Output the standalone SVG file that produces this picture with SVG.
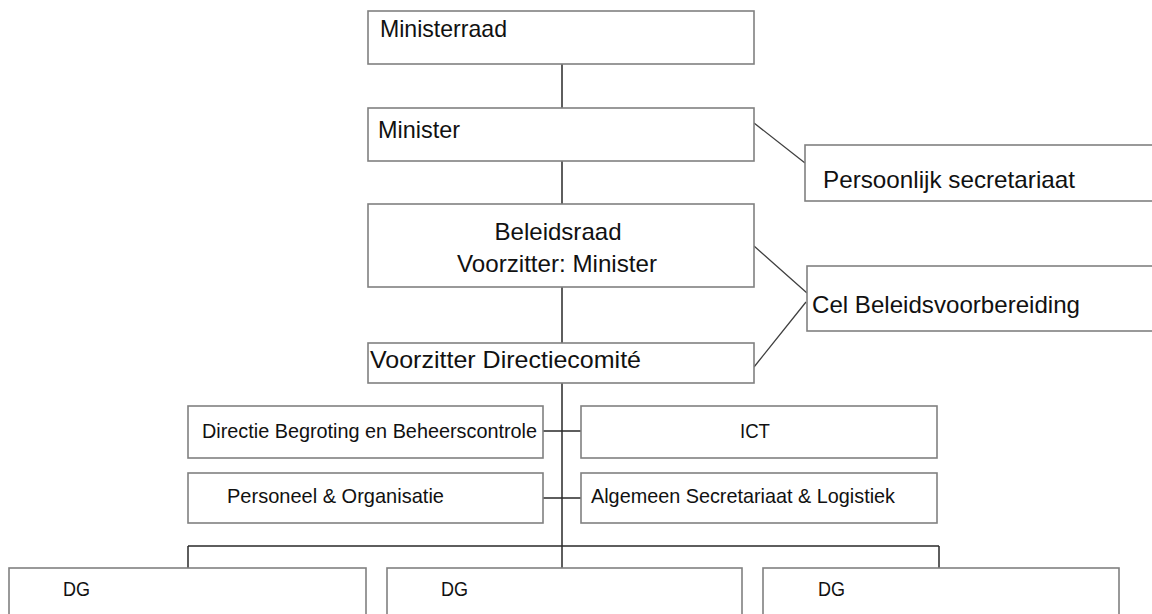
<svg xmlns="http://www.w3.org/2000/svg" width="1152" height="614" viewBox="0 0 1152 614">
<style>
.box{fill:#fff;stroke:#808080;stroke-width:1.6}
.ln{stroke:#2a2a2a;stroke-width:1.5;fill:none}
.dg{stroke:#404040;stroke-width:1.3;fill:none}
text{font-family:"Liberation Sans",Arial,sans-serif;fill:#111}
.big{font-size:24px}
.sm{font-size:21px}
</style>
<rect width="1152" height="614" fill="#fff"/>
<g id="connectors">
<path class="ln" d="M562 64V108M562 161V204M562 287V343M562 383V568M543 431H581M543 498H581M188 546H939M188 546V568M939 546V568"/>
<path class="dg" d="M754 123L805 163M754 246L807 293M754 367L806 302"/>
</g>
<g id="ministerraad"><rect class="box" x="368" y="11" width="386" height="53"/><text class="big" x="380" y="37" textLength="127" lengthAdjust="spacingAndGlyphs">Ministerraad</text></g>
<g id="minister"><rect class="box" x="368" y="108" width="386" height="53"/><text class="big" x="378" y="138" textLength="82" lengthAdjust="spacingAndGlyphs">Minister</text></g>
<g id="persoonlijk"><rect class="box" x="805" y="145" width="360" height="56"/><text class="big" x="823" y="188" textLength="252" lengthAdjust="spacingAndGlyphs">Persoonlijk secretariaat</text></g>
<g id="beleidsraad"><rect class="box" x="368" y="204" width="386" height="83"/><text class="big" x="558" y="240" text-anchor="middle" textLength="127" lengthAdjust="spacingAndGlyphs">Beleidsraad</text><text class="big" x="557" y="272" text-anchor="middle" textLength="200" lengthAdjust="spacingAndGlyphs">Voorzitter: Minister</text></g>
<g id="cel"><rect class="box" x="807" y="266" width="360" height="65"/><text class="big" x="812" y="313" textLength="268" lengthAdjust="spacingAndGlyphs">Cel Beleidsvoorbereiding</text></g>
<g id="voorzitter"><rect class="box" x="368" y="343" width="386" height="40"/><text class="big" x="370" y="368" textLength="271" lengthAdjust="spacingAndGlyphs">Voorzitter Directiecomité</text></g>
<g id="directie"><rect class="box" x="188" y="406" width="355" height="52"/><text class="sm" x="202" y="438" textLength="335" lengthAdjust="spacingAndGlyphs">Directie Begroting en Beheerscontrole</text></g>
<g id="ict"><rect class="box" x="581" y="406" width="356" height="52"/><text class="sm" x="755" y="438" text-anchor="middle" textLength="30" lengthAdjust="spacingAndGlyphs">ICT</text></g>
<g id="personeel"><rect class="box" x="188" y="473" width="355" height="50"/><text class="sm" x="227" y="503" textLength="217" lengthAdjust="spacingAndGlyphs">Personeel &amp; Organisatie</text></g>
<g id="algemeen"><rect class="box" x="581" y="473" width="356" height="50"/><text class="sm" x="591" y="503" textLength="304" lengthAdjust="spacingAndGlyphs">Algemeen Secretariaat &amp; Logistiek</text></g>
<g id="dg1"><rect class="box" x="9" y="568" width="357" height="60"/><text class="sm" x="63" y="596" textLength="27" lengthAdjust="spacingAndGlyphs">DG</text></g>
<g id="dg2"><rect class="box" x="387" y="568" width="355" height="60"/><text class="sm" x="441" y="596" textLength="27" lengthAdjust="spacingAndGlyphs">DG</text></g>
<g id="dg3"><rect class="box" x="763" y="568" width="356" height="60"/><text class="sm" x="818" y="596" textLength="27" lengthAdjust="spacingAndGlyphs">DG</text></g>
</svg>
